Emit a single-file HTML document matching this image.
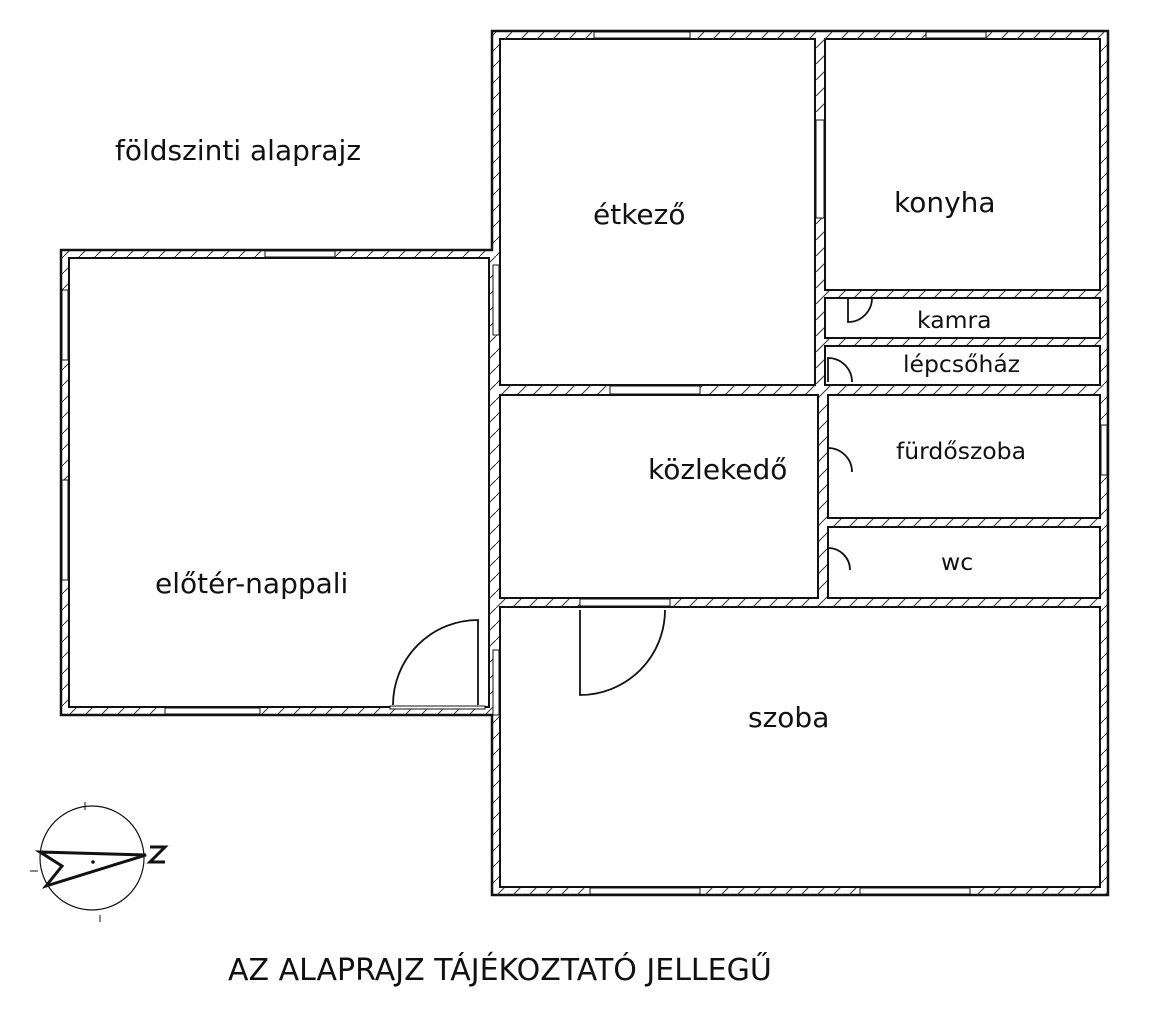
<!DOCTYPE html>
<html><head><meta charset="utf-8"><style>
body{margin:0;background:#fff}
svg{display:block}
text{font-family:"DejaVu Sans","Liberation Sans",sans-serif;fill:#111}
</style></head><body>
<svg width="1170" height="1024" viewBox="0 0 1170 1024" xmlns="http://www.w3.org/2000/svg">
<defs>
<pattern id="h" width="16" height="16" patternUnits="userSpaceOnUse">
<rect width="16" height="16" fill="#fff"/>
<path d="M0 16 L16 0" stroke="#333" stroke-width="1"/>
</pattern>
</defs>
<path d="M492 31 H1108 V895 H492 V715 H61 V250 H492 Z" fill="url(#h)" stroke="#111" stroke-width="2.5"/>
<g fill="#fff" stroke="#111" stroke-width="2">
<rect x="69" y="258" width="420" height="449"/>
<rect x="500" y="39" width="315" height="346"/>
<rect x="825" y="39" width="275" height="251"/>
<rect x="825" y="298" width="275" height="40"/>
<rect x="825" y="346" width="275" height="39"/>
<rect x="500" y="395" width="318" height="203"/>
<rect x="828" y="395" width="272" height="123"/>
<rect x="828" y="527" width="272" height="71"/>
<rect x="500" y="607" width="600" height="280"/>
</g>
<g fill="#fff" stroke="#111" stroke-width="1">
<rect x="594" y="32" width="96" height="6"/>
<rect x="926" y="32" width="60" height="6"/>
<rect x="816" y="120" width="8" height="98"/>
<rect x="265" y="251" width="70" height="6"/>
<rect x="62" y="290" width="6" height="70"/>
<rect x="62" y="480" width="6" height="100"/>
<rect x="165" y="708" width="95" height="6"/>
<rect x="493" y="265" width="6" height="70"/>
<rect x="493" y="650" width="6" height="65"/>
<rect x="610" y="386" width="90" height="8"/>
<rect x="1101" y="425" width="6" height="50"/>
<rect x="590" y="888" width="110" height="6"/>
<rect x="860" y="888" width="110" height="6"/>
<rect x="580" y="599" width="90" height="7"/>
<rect x="390" y="706" width="95" height="3"/>
</g>
<g fill="none" stroke="#111" stroke-width="1.8">
<path d="M478 705 V620 A85 85 0 0 0 393 705"/>
<path d="M580 610 V695 A85 85 0 0 0 665 610"/>
<path d="M848 298 V322 A24 24 0 0 0 872 298"/>
<path d="M828 382 V358 A24 24 0 0 1 852 382"/>
<path d="M828 472 V448 A24 24 0 0 1 852 472"/>
<path d="M828 570 V548 A22 22 0 0 1 850 570"/>
</g>
<g font-size="28">
<text x="115" y="160">földszinti alaprajz</text>
<text x="593" y="224">étkező</text>
<text x="894" y="212">konyha</text>
<text x="648" y="479">közlekedő</text>
<text x="155" y="593">előtér-nappali</text>
<text x="748" y="727">szoba</text>
</g>
<g font-size="23.5">
<text x="917" y="328">kamra</text>
<text x="903" y="372">lépcsőház</text>
<text x="896" y="459">fürdőszoba</text>
<text x="941" y="570">wc</text>
</g>
<text x="228" y="980" font-size="30">AZ ALAPRAJZ TÁJÉKOZTATÓ JELLEGŰ</text>
<g stroke="#111" fill="none">
<circle cx="92" cy="858" r="52" stroke-width="1.2"/>
<path d="M85 802 V810 M30 871 H38 M100 915 V922" stroke-width="1"/>
<path d="M40 852 L146 855 L46 886 L62 866 Z" stroke-width="3"/>
<path d="M150 847 H165 L150 862 H165" stroke-width="3"/>
</g>
<circle cx="93" cy="862" r="1.8" fill="#111"/>
</svg>
</body></html>
